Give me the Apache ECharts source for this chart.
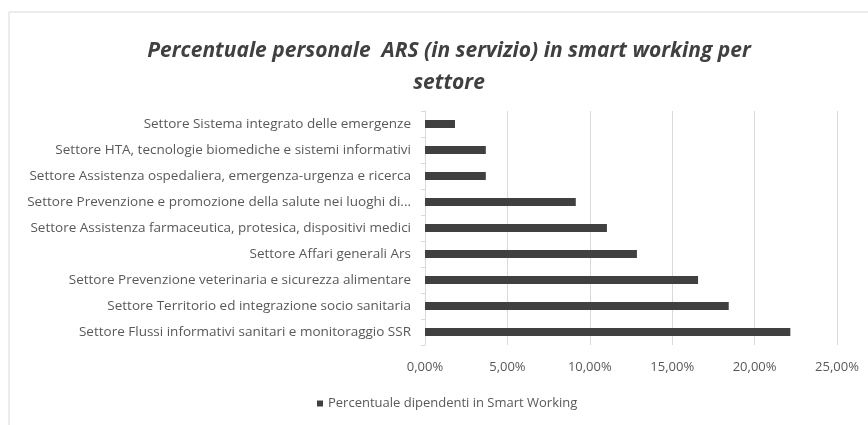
<!DOCTYPE html>
<html>
<head>
<meta charset="utf-8">
<script src="https://cdn.jsdelivr.net/npm/echarts@6/dist/echarts.min.js"></script>
<style>
  html, body { margin: 0; padding: 0; background: #fff; }
  #chart { width: 868px; height: 425px; }
</style>
</head>
<body>
<div id="chart"></div>
<script>
var categories = [
  'Settore Flussi informativi sanitari e monitoraggio SSR',
  'Settore Territorio ed integrazione socio sanitaria',
  'Settore Prevenzione veterinaria e sicurezza alimentare',
  'Settore Affari generali Ars',
  'Settore Assistenza farmaceutica, protesica, dispositivi medici',
  'Settore Prevenzione e promozione della salute nei luoghi di...',
  'Settore Assistenza ospedaliera, emergenza-urgenza e ricerca',
  'Settore HTA, tecnologie biomediche e sistemi informativi',
  'Settore Sistema integrato delle emergenze'
];
var values = [22.17, 18.43, 16.57, 12.86, 11.04, 9.15, 3.69, 3.69, 1.82];
var seriesName = 'Percentuale dipendenti in Smart Working';

var dom = document.getElementById('chart');
var myChart = echarts.init(dom);

function pct(v) {
  return v.toFixed(2).replace('.', ',') + '%';
}

var option = {
  backgroundColor: '#fff',
  textStyle: { fontFamily: 'Open Sans' },
  graphic: [{
    type: 'rect',
    shape: { x: 9, y: 12, width: 870, height: 420 },
    style: { fill: 'none', stroke: '#d9d9d9', lineWidth: 1 }
  }],
  title: {
    text: 'Percentuale personale  ARS (in servizio) in smart working per\nsettore',
    left: 444,
    textAlign: 'center',
    top: 30,
    textStyle: {
      fontFamily: 'Open Sans',
      fontSize: 21,
      fontStyle: 'italic',
      fontWeight: 'bold',
      color: '#404040',
      lineHeight: 32
    }
  },
  legend: {
    bottom: 10,
    left: 312,
    itemWidth: 6,
    itemHeight: 6,
    itemGap: 6,
    icon: 'rect',
    textStyle: { color: '#595959', fontSize: 13, fontFamily: 'Open Sans' },
    data: [seriesName]
  },
  grid: {
    left: 425,
    right: 31,
    top: 111,
    height: 234
  },
  xAxis: {
    type: 'value',
    min: 0,
    max: 25,
    interval: 5,
    axisLabel: {
      formatter: pct,
      color: '#595959',
      fontSize: 13,
      margin: 16
    },
    axisLine: { show: false },
    axisTick: { show: false },
    splitLine: { lineStyle: { color: '#d9d9d9', width: 1 } }
  },
  yAxis: {
    type: 'category',
    data: categories,
    axisLabel: {
      color: '#595959',
      fontSize: 13.5,
      margin: 14
    },
    axisLine: { lineStyle: { color: '#d9d9d9' } },
    axisTick: { show: true, length: 4, lineStyle: { color: '#d9d9d9' } }
  },
  series: [{
    name: seriesName,
    type: 'bar',
    data: values,
    barWidth: 8,
    itemStyle: { color: '#404040' }
  }]
};

myChart.setOption(option);
</script>
</body>
</html>
